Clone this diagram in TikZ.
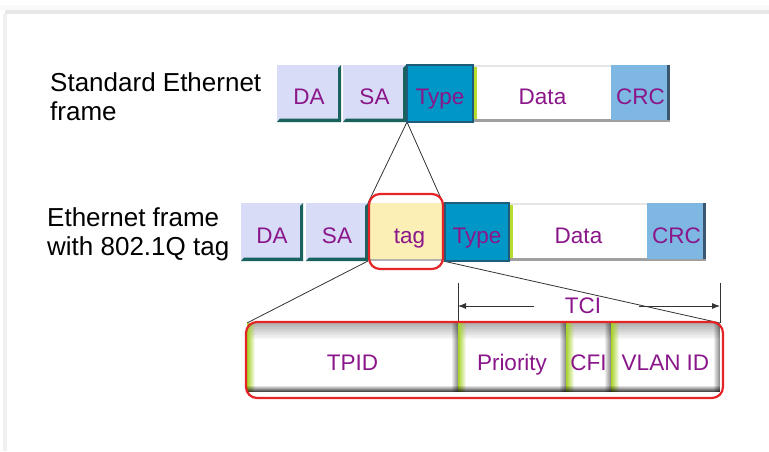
\documentclass[tikz,border=0pt]{standalone}
\usepackage{fontspec}
\setmainfont{Liberation Sans}
\usetikzlibrary{arrows.meta}
\pgfdeclarelayer{bg}
\pgfsetlayers{bg,main}
\definecolor{lav}{HTML}{D9DCF7}
\definecolor{bevteal}{HTML}{1A625D}
\definecolor{typeblue}{HTML}{0096C6}
\definecolor{typedark}{HTML}{1E5C7A}
\definecolor{crcblue}{HTML}{7DB7E2}
\definecolor{crcdark}{HTML}{3A5670}
\definecolor{datagreen}{HTML}{B8DC30}
\definecolor{tcigreen}{HTML}{A6D125}
\definecolor{tagyellow}{HTML}{FCEFB6}
\definecolor{txtpurple}{HTML}{8A168A}
\definecolor{ringred}{HTML}{E52428}
\definecolor{framegray}{HTML}{E8E8E8}
\begin{document}
\begin{tikzpicture}[x=1pt,y=-1pt,
  fld/.style={rectangle, inner sep=0pt, outer sep=0pt, anchor=north west,
    text=txtpurple, font=\fontsize{22.5}{24}\selectfont, text height=22pt, text depth=0pt},
  lavbox/.style={fld, fill=lav, path picture={
    \fill[bevteal] (path picture bounding box.south west) -- (path picture bounding box.south east)
      -- (path picture bounding box.north east)
      -- ([xshift=-3pt,yshift=-3pt]path picture bounding box.north east)
      -- ([xshift=-3pt,yshift=3.5pt]path picture bounding box.south east)
      -- ([xshift=3pt,yshift=3.5pt]path picture bounding box.south west) -- cycle;}},
  typebox/.style={fld, fill=typeblue, draw=typedark, line width=1.8pt},
  databox/.style={fld, fill=white, path picture={
    \fill[datagreen] (path picture bounding box.north west) rectangle ([xshift=3pt]path picture bounding box.south west);
    \fill[gray!20] (path picture bounding box.north west) rectangle ([yshift=-1.5pt]path picture bounding box.north east);
    \fill[gray!75] (path picture bounding box.south west) rectangle ([yshift=3pt]path picture bounding box.south east);}},
  crcbox/.style={fld, fill=crcblue, path picture={
    \fill[crcdark] ([xshift=-3pt]path picture bounding box.north east) rectangle (path picture bounding box.south east);
    \fill[gray!75] (path picture bounding box.south west) rectangle ([yshift=2.5pt]path picture bounding box.south east);}},
  tagbox/.style={fld, fill=tagyellow, path picture={
    \fill[gray!60] (path picture bounding box.south west) rectangle ([yshift=2.5pt]path picture bounding box.south east);}},
  tcibox/.style={fld, fill=white, text height=26pt, path picture={
    \foreach \i [evaluate=\i as \op using 0.3*(1-\i/8), evaluate=\i as \ya using -2*\i, evaluate=\i as \yb using -2*\i-2] in {0,...,7}
      \fill[black, opacity=\op] ([yshift=\ya pt]path picture bounding box.north west) rectangle ([yshift=\yb pt]path picture bounding box.north east);
    \foreach \i [evaluate=\i as \op using 1-\i/8, evaluate=\i as \xa using \i, evaluate=\i as \xb using \i+1] in {0,...,7}
      \fill[tcigreen, opacity=\op] ([xshift=\xa pt]path picture bounding box.north west) rectangle ([xshift=\xb pt]path picture bounding box.south west);
    \foreach \i [evaluate=\i as \op using 0.42*(1-\i/6), evaluate=\i as \xa using -\i, evaluate=\i as \xb using -\i-1] in {0,...,5}
      \fill[black, opacity=\op] ([xshift=\xa pt]path picture bounding box.north east) rectangle ([xshift=\xb pt]path picture bounding box.south east);
    \foreach \i [evaluate=\i as \op using 0.7*(1-\i/6), evaluate=\i as \ya using \i, evaluate=\i as \yb using \i+1] in {0,...,5}
      \fill[black, opacity=\op] ([yshift=\ya pt]path picture bounding box.south west) rectangle ([yshift=\yb pt]path picture bounding box.south east);}},
  conn/.style={line width=0.8pt, black!80},
  ring/.style={draw=ringred, line width=2.2pt, rounded corners=11pt},
  lbl/.style={anchor=north west, inner sep=0pt, align=left, font=\fontsize{26}{29}\selectfont}
]
\useasboundingbox (0,0) rectangle (769,451);
% page frame
\fill[gray!5] (0,5) rectangle (769,10);
\fill[framegray] (5,10) rectangle (769,14);
\fill[gray!12] (3,14) rectangle (7,451);

% labels
\node[lbl] (lab1) at (50,72) {Standard Ethernet\\frame};
\node[lbl] (lab2) at (47,207) {Ethernet frame\\with 802.1Q tag};

% row 1
\node[lavbox, minimum width=64pt, minimum height=57pt] (da1) at (277,65) {DA};
\node[lavbox, minimum width=63pt, minimum height=57pt] (sa1) at (343,65) {SA};
\node[typebox, minimum width=66pt, minimum height=57pt] (type1) at (407,65) {Type};
\node[databox, minimum width=137pt, minimum height=57pt] (data1) at (474,65) {Data};
\node[crcbox, minimum width=59pt, minimum height=57pt] (crc1) at (611,65) {CRC};

% row 2
\node[lavbox, minimum width=62pt, minimum height=58pt] (da2) at (241,203) {DA};
\node[lavbox, minimum width=62pt, minimum height=58pt] (sa2) at (306,203) {SA};
\node[tagbox, minimum width=75pt, minimum height=58pt] (tag) at (368,203) {\hspace*{8pt}tag};
\node[typebox, minimum width=64pt, minimum height=58pt] (type2) at (445,203) {Type};
\node[databox, minimum width=137pt, minimum height=58pt] (data2) at (510,203) {Data};
\node[crcbox, minimum width=59pt, minimum height=58pt] (crc2) at (647,203) {CRC};

% row 3
\node[tcibox, minimum width=211pt, minimum height=69pt] (tpid) at (247,323) {TPID};
\node[tcibox, minimum width=108pt, minimum height=69pt] (prio) at (458,323) {Priority};
\node[tcibox, minimum width=45pt, minimum height=69pt] (cfi) at (566,323) {CFI};
\node[tcibox, minimum width=109pt, minimum height=69pt] (vlan) at (611,323) {VLAN ID};

% TCI dimension
\coordinate (tcil) at (458,283);
\coordinate (tcir) at (720,283);
\node[text=txtpurple, font=\fontsize{22.5}{24}\selectfont, inner sep=0pt] (tci) at (583,306) {TCI};

\begin{pgfonlayer}{bg}
  \draw[conn] (type1.south west) -- (tag.north west);
  \draw[conn] (type1.south west) -- (tag.north east);
  \draw[conn] (tag.south west) -- (tpid.north west);
  \draw[conn] (tag.south east) -- (vlan.north east);
  \draw[conn] (tcil) -- (prio.north west);
  \draw[conn] (tcir) -- (vlan.north east);
  \fill[white, rounded corners=11pt] (369,194) rectangle (443,269);
  \fill[white, rounded corners=11pt] (246,322) rectangle (723,398);
\end{pgfonlayer}

\draw[conn, -{Latex[length=8pt,width=6pt]}] ([xshift=-31pt]tci.west) -- (tcil |- tci.west);
\draw[conn, -{Latex[length=8pt,width=6pt]}] ([xshift=38pt]tci.east) -- (tcir |- tci.east);

% red rings
\draw[ring] (369,194) rectangle (443,269);
\draw[ring] (246,322) rectangle (723,398);
\end{tikzpicture}
\end{document}
